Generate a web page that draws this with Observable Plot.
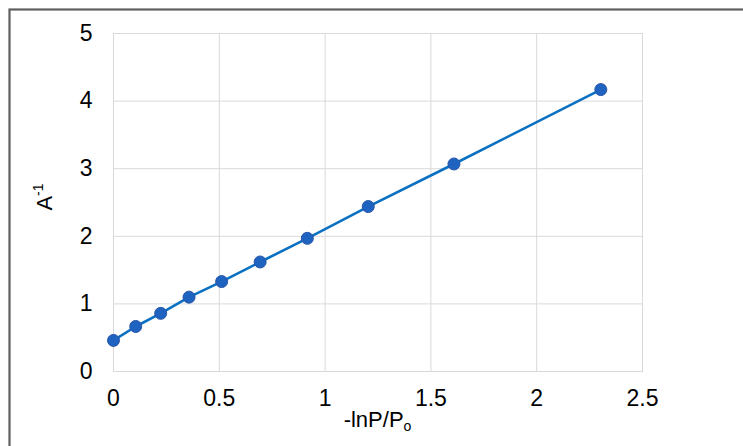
<!DOCTYPE html>
<html><head><meta charset="utf-8">
<script src="https://cdn.jsdelivr.net/npm/d3@7"></script>
<script src="https://cdn.jsdelivr.net/npm/@observablehq/plot@0.6"></script>
<style>body{margin:0;background:#fff}</style>
</head><body><div id="chart"></div>
<script>
const xValues = [0, 0.105, 0.223, 0.357, 0.511, 0.693, 0.916, 1.204, 1.609, 2.303];
const yValues = [0.46, 0.666, 0.86, 1.10, 1.33, 1.62, 1.97, 2.44, 3.07, 4.17];
const xTicks = [0, 0.5, 1, 1.5, 2, 2.5];
const yTicks = [0, 1, 2, 3, 4, 5];
const xTitle = "-lnP/P", xTitleSub = "o";
const yTitle = "A", yTitleSup = "-1";

const data = xValues.map((x, i) => ({x, y: yValues[i]}));
const font = "Liberation Sans, Arial, sans-serif";

const plot = Plot.plot({
  width: 743, height: 446,
  marginLeft: 113, marginRight: 101, marginTop: 33, marginBottom: 75,
  style: {fontFamily: font, fontSize: "23px", color: "#000", background: "#fff", overflow: "visible"},
  x: {domain: [0, 2.5], label: null},
  y: {domain: [0, 5], label: null},
  marks: [
    Plot.gridX(xTicks, {stroke: "#d9d9d9", strokeOpacity: 1, strokeWidth: 1}),
    Plot.gridY(yTicks, {stroke: "#d9d9d9", strokeOpacity: 1, strokeWidth: 1}),
    Plot.frame({stroke: "#d9d9d9", strokeWidth: 1}),
    Plot.axisX(xTicks, {tickSize: 0, tickPadding: 18, fontSize: 23, tickFormat: d => String(d), label: null}),
    Plot.axisY(yTicks, {tickSize: 0, tickPadding: 21, fontSize: 23, tickFormat: d => String(d), label: null}),
    Plot.line(data, {x: "x", y: "y", stroke: "#0a70c2", strokeWidth: 2.6}),
    Plot.dot(data, {x: "x", y: "y", r: 6, fill: "#1f63c0", stroke: "#2a55a8", strokeWidth: 1})
  ]
});

const svg = d3.select(plot);
// outer chart border
svg.insert("rect", ":first-child")
  .attr("x", 9.5).attr("y", 9.5).attr("width", 800).attr("height", 500)
  .attr("fill", "none").attr("stroke", "#5f5f5f").attr("stroke-width", 2.2);

const xs = plot.scale("x"), ys = plot.scale("y");
const cx = (xs.range[0] + xs.range[1]) / 2;
const t = svg.append("text")
  .attr("x", cx).attr("y", 427)
  .attr("text-anchor", "middle")
  .attr("font-family", font).attr("font-size", 22).attr("fill", "#000");
t.append("tspan").text(xTitle);
t.append("tspan").attr("font-size", 14).attr("dy", 4).text(xTitleSub);

const cy = (ys.range[0] + ys.range[1]) / 2 - 5;
const ty = svg.append("text")
  .attr("transform", `translate(52,${cy}) rotate(-90)`)
  .attr("text-anchor", "middle")
  .attr("font-family", font).attr("font-size", 22).attr("fill", "#000");
ty.append("tspan").text(yTitle);
ty.append("tspan").attr("font-size", 14).attr("dy", -9).text(yTitleSup);

document.getElementById("chart").appendChild(plot);
</script>
</body></html>
